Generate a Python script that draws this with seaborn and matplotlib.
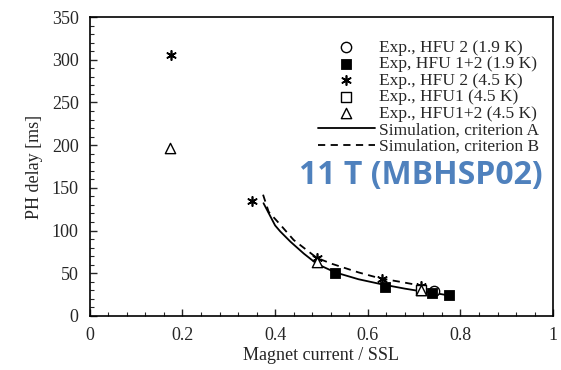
import matplotlib
matplotlib.use("Agg")
import matplotlib.pyplot as plt
import seaborn as sns
from matplotlib.ticker import MultipleLocator, FuncFormatter

# experimental points (magnet current / SSL, PH delay in ms)
hfu2_19_x = [0.742]
hfu2_19_y = [29]
hfu12_19_x = [0.53, 0.637, 0.739, 0.775]
hfu12_19_y = [50, 34, 27, 24]
hfu2_45_x = [0.176, 0.35, 0.49, 0.631, 0.714]
hfu2_45_y = [305, 135, 68, 43, 35]
hfu1_45_x = [0.714]
hfu1_45_y = [30]
hfu12_45_x = [0.174, 0.49, 0.714]
hfu12_45_y = [197, 63, 31]

# simulation curves
sim_a_x = [0.375, 0.40, 0.411, 0.433, 0.462, 0.49, 0.53, 0.58, 0.631, 0.68, 0.714, 0.743, 0.775]
sim_a_y = [132, 106, 99, 87, 73, 61, 51, 43, 37, 32, 29, 27, 24]
sim_b_x = [0.374, 0.386, 0.411, 0.44, 0.49, 0.523, 0.58, 0.627, 0.67, 0.72]
sim_b_y = [142, 122, 107, 89, 68, 61, 51, 44, 40, 35]

sns.set_style("white")
plt.rcParams["font.family"] = ["Liberation Serif", "DejaVu Serif"]

fig = plt.figure(figsize=(5.61, 3.70), dpi=100)
ax = fig.add_axes([0.160, 0.146, 0.826, 0.808])

sns.lineplot(x=sim_a_x, y=sim_a_y, ax=ax, color="black", lw=1.3, sort=False,
             label="Simulation, criterion A")
sns.lineplot(x=sim_b_x, y=sim_b_y, ax=ax, color="black", lw=1.3, sort=False,
             linestyle=(0, (4, 3)), label="Simulation, criterion B")

sns.scatterplot(x=hfu2_19_x, y=hfu2_19_y, ax=ax, marker="o", s=55,
                facecolor="white", edgecolor="black", linewidth=1.0,
                label="Exp., HFU 2 (1.9 K)", zorder=3)
sns.scatterplot(x=hfu12_19_x, y=hfu12_19_y, ax=ax, marker="s", s=55,
                color="black", edgecolor="black",
                label="Exp, HFU 1+2 (1.9 K)", zorder=4)
sns.scatterplot(x=hfu2_45_x, y=hfu2_45_y, ax=ax, marker=(6, 2, 0), s=45,
                color="black", edgecolor="black", linewidth=1.2,
                label="Exp., HFU 2 (4.5 K)", zorder=3)
sns.scatterplot(x=hfu1_45_x, y=hfu1_45_y, ax=ax, marker="s", s=45,
                facecolor="white", edgecolor="black", linewidth=1.0,
                label="Exp., HFU1 (4.5 K)", zorder=3)
sns.scatterplot(x=hfu12_45_x, y=hfu12_45_y, ax=ax, marker="^", s=55,
                facecolor="white", edgecolor="black", linewidth=1.0,
                label="Exp., HFU1+2 (4.5 K)", zorder=3)

ax.set_xlim(0, 1)
ax.set_ylim(0, 350)
ax.xaxis.set_major_locator(MultipleLocator(0.2))
ax.xaxis.set_minor_locator(MultipleLocator(0.04))
ax.yaxis.set_major_locator(MultipleLocator(50))
ax.yaxis.set_minor_locator(MultipleLocator(10))
ax.xaxis.set_major_formatter(FuncFormatter(lambda v, p: "{:g}".format(round(v, 2))))
ax.tick_params(which="both", direction="in", top=False, right=False,
               bottom=True, left=True, labelsize=13, pad=8)
ax.tick_params(which="major", length=5, width=1)
ax.tick_params(which="minor", length=3, width=0.8)
for sp in ax.spines.values():
    sp.set_color("black")
    sp.set_linewidth(1.2)

ax.set_xlabel("Magnet current / SSL", fontsize=13, labelpad=2)
ax.set_ylabel("PH delay [ms]", fontsize=13, labelpad=6)

handles, labels = ax.get_legend_handles_labels()
order = [2, 3, 4, 5, 6, 0, 1]
ax.legend([handles[i] for i in order], [labels[i] for i in order],
          loc="upper right", bbox_to_anchor=(0.995, 0.965), frameon=False,
          fontsize=12.5, handlelength=3.3, handletextpad=0.2,
          labelspacing=0.02, borderaxespad=0.3)

ax.text(0.715, 0.47, "11 T (MBHSP02)", transform=ax.transAxes,
        fontsize=23, fontweight="bold", color="#4F81BD",
        family=["Open Sans", "DejaVu Sans"], ha="center", va="center")

fig.savefig("out.png", dpi=100)
